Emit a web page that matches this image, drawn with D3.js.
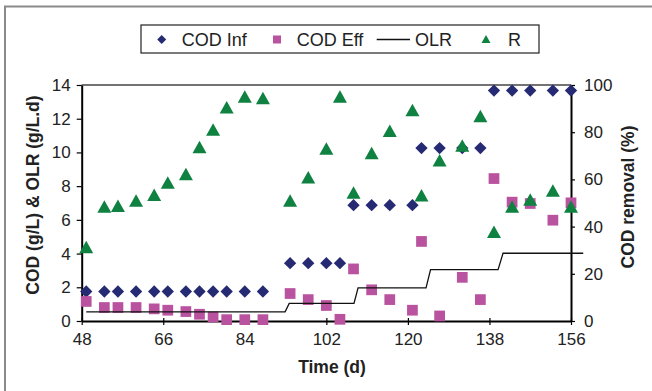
<!DOCTYPE html>
<html>
<head>
<meta charset="utf-8">
<script src="https://cdn.jsdelivr.net/npm/d3@7"></script>
<style>
  body { margin: 0; background: #fff; }
  svg { font-family: "Liberation Sans", Arial, sans-serif; }
</style>
</head>
<body>
<div id="chart"></div>
<script>
var width = 652,
    height = 391;

// sampling days
var days = [49, 53, 56, 60, 64, 67, 71, 74, 77, 80, 84, 88,
            94, 98, 102, 105, 108, 112, 116, 121, 123, 127, 132, 136,
            139, 143, 147, 152, 156];

// COD influent (g/L)
var codInf = [1.75, 1.75, 1.75, 1.75, 1.75, 1.75, 1.75, 1.75, 1.75, 1.75, 1.75, 1.75,
              3.43, 3.43, 3.43, 3.43, 6.87, 6.87, 6.87, 6.87, 10.26, 10.26, 10.26, 10.26,
              13.67, 13.67, 13.67, 13.67, 13.67];

// COD effluent (g/L)
var codEff = [1.16, 0.8, 0.8, 0.8, 0.72, 0.64, 0.56, 0.4, 0.24, 0.08, 0.08, 0.08,
              1.63, 1.27, 0.92, 0.1, 3.09, 1.85, 1.27, 0.64, 4.72, 0.3, 2.59, 1.27,
              8.45, 7.05, 6.97, 5.98, 7.01];

// COD removal R (%)
var removal = [31.3, 48.4, 48.7, 51, 53.4, 58.6, 62.2, 73.6, 81, 90.5, 95, 94.4,
               51, 60.8, 73, 95, 54.3, 71.1, 80.5, 89.3, 53.2, 68, 74.3, 86.8,
               37.7, 48.4, 51.4, 55.2, 48.4];

// OLR (g/L.d), step line
var olrDays = [49, 92.9, 93.8, 108.1, 109, 124, 125, 139.9, 141, 158.7];
var olrVals = [0.54, 0.54, 1.04, 1.04, 1.97, 1.97, 3.05, 3.05, 4.02, 4.02];

var xTicks = [48, 66, 84, 102, 120, 138, 156];
var yLeftTicks = [0, 2, 4, 6, 8, 10, 12, 14];
var yRightTicks = [0, 20, 40, 60, 80, 100];

var colInf = '#252a73',
    colEff = '#b9529f',
    colR = '#0f8140';

var svg = d3.select('#chart').append('svg')
    .attr('width', width)
    .attr('height', height);

// outer frame (only left and top visible)
svg.append('path')
    .attr('d', 'M5,391 V6.5 H652')
    .attr('fill', 'none')
    .attr('stroke', '#8a8a8a')
    .attr('stroke-width', 2);

var x = d3.scaleLinear().domain([48, 156]).range([81.7, 571]);
var yL = d3.scaleLinear().domain([0, 14]).range([321, 85]);
var yR = d3.scaleLinear().domain([0, 100]).range([321, 85]);

// plot area top border
svg.append('line')
    .attr('x1', x(48)).attr('x2', x(156))
    .attr('y1', yL(14)).attr('y2', yL(14))
    .attr('stroke', '#444').attr('stroke-width', 1.5);

function styleAxis(g) {
    g.select('.domain').attr('stroke', '#000').attr('stroke-width', 2);
    g.selectAll('.tick line').attr('stroke', '#000').attr('stroke-width', 1.2);
    g.selectAll('.tick text').attr('fill', '#222').style('font-size', '17px')
        .style('font-family', '"Liberation Sans", Arial, sans-serif');
}

var gx = svg.append('g')
    .attr('transform', 'translate(0,' + yL(0) + ')')
    .call(d3.axisBottom(x).tickValues(xTicks).tickSizeInner(4).tickSizeOuter(0).tickPadding(8))
    .call(styleAxis);
gx.selectAll('.tick line').attr('y1', -3);

var gl = svg.append('g')
    .attr('transform', 'translate(' + x(48) + ',0)')
    .call(d3.axisLeft(yL).tickValues(yLeftTicks).tickSizeInner(5).tickSizeOuter(0).tickPadding(6))
    .call(styleAxis);

var gr = svg.append('g')
    .attr('transform', 'translate(' + x(156) + ',0)')
    .call(d3.axisRight(yR).tickValues(yRightTicks).tickSizeInner(4).tickSizeOuter(0).tickPadding(9))
    .call(styleAxis);

// axis titles
svg.append('text')
    .attr('transform', 'translate(33,' + 195 + ') rotate(-90)')
    .attr('text-anchor', 'middle')
    .attr('dominant-baseline', 'central')
    .style('font-size', '17.5px').style('font-weight', 'bold').attr('fill', '#222')
    .text('COD (g/L) & OLR (g/L.d)');

svg.append('text')
    .attr('transform', 'translate(628,' + 197 + ') rotate(-90)')
    .attr('text-anchor', 'middle')
    .attr('dominant-baseline', 'central')
    .style('font-size', '17.5px').style('font-weight', 'bold').attr('fill', '#222')
    .text('COD removal (%)');

svg.append('text')
    .attr('x', 332).attr('y', 373)
    .attr('text-anchor', 'middle')
    .style('font-size', '17.5px').style('font-weight', 'bold').attr('fill', '#222')
    .text('Time (d)');

// markers
var diamond = d3.symbol().type(d3.symbolSquare).size(76);
var square = d3.symbol().type(d3.symbolSquare).size(115);
var triPath = 'M0,-6.5L7,6L-7,6Z';

svg.append('g').selectAll('path')
    .data(days)
    .enter()
    .append('path')
    .attr('d', diamond)
    .attr('fill', colInf)
    .attr('transform', function(d, i) {
        return 'translate(' + x(d) + ',' + yL(codInf[i]) + ') rotate(45)';
    });

svg.append('g').selectAll('path')
    .data(days)
    .enter()
    .append('path')
    .attr('d', square)
    .attr('fill', colEff)
    .attr('transform', function(d, i) {
        return 'translate(' + x(d) + ',' + yL(codEff[i]) + ')';
    });

var olrLine = d3.line()
    .x(function(d) { return x(d); })
    .y(function(d, i) { return yL(olrVals[i]); });

svg.append('path')
    .datum(olrDays)
    .attr('d', olrLine)
    .attr('fill', 'none')
    .attr('stroke', '#111')
    .attr('stroke-width', 1.3);

svg.append('g').selectAll('path')
    .data(days)
    .enter()
    .append('path')
    .attr('d', triPath)
    .attr('fill', colR)
    .attr('transform', function(d, i) {
        return 'translate(' + x(d) + ',' + yR(removal[i]) + ')';
    });

// legend
var legend = svg.append('g');
legend.append('rect')
    .attr('x', 141).attr('y', 25)
    .attr('width', 398).attr('height', 28)
    .attr('fill', '#fff')
    .attr('stroke', '#222').attr('stroke-width', 1.2);

var legY = 39.5;
legend.append('path').attr('d', d3.symbol().type(d3.symbolSquare).size(40))
    .attr('fill', colInf)
    .attr('transform', 'translate(161.7,' + legY + ') rotate(45)');
legend.append('path').attr('d', d3.symbol().type(d3.symbolSquare).size(64))
    .attr('fill', colEff)
    .attr('transform', 'translate(277,' + legY + ')');
legend.append('line')
    .attr('x1', 376.7).attr('x2', 410)
    .attr('y1', legY).attr('y2', legY)
    .attr('stroke', '#111').attr('stroke-width', 1.3);
legend.append('path').attr('d', 'M0,-4.5L4.5,3.5L-4.5,3.5Z')
    .attr('fill', colR)
    .attr('transform', 'translate(486,' + legY + ')');

var legText = [['COD Inf', 181.7], ['COD Eff', 296.7], ['OLR', 415], ['R', 508]];
legend.selectAll('text')
    .data(legText)
    .enter()
    .append('text')
    .attr('x', function(d) { return d[1]; })
    .attr('y', legY)
    .attr('dominant-baseline', 'central')
    .style('font-size', '18px')
    .attr('fill', '#222')
    .text(function(d) { return d[0]; });
</script>
</body>
</html>
